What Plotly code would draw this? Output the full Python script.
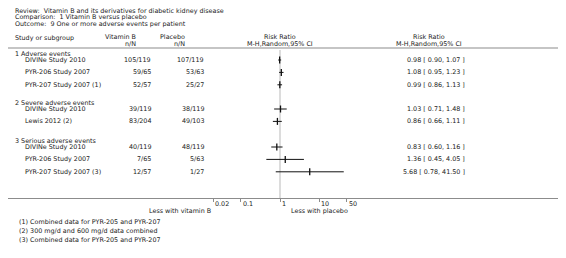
import math
import plotly.graph_objects as go

W, H = 566, 258
OFF = 8                      # browser body margin
WF, HF = W - OFF, H - OFF    # figure size

# ---------------- data ----------------
titles = [
    "Review:  Vitamin B and its derivatives for diabetic kidney disease",
    "Comparison:  1 Vitamin B versus placebo",
    "Outcome:  9 One or more adverse events per patient",
]
groups = ["1 Adverse events", "2 Severe adverse events", "3 Serious adverse events"]
group_of = [0, 0, 0, 1, 1, 2, 2, 2]
studies = ["DIVINe Study 2010", "PYR-206 Study 2007", "PYR-207 Study 2007 (1)",
           "DIVINe Study 2010", "Lewis 2012 (2)",
           "DIVINe Study 2010", "PYR-206 Study 2007", "PYR-207 Study 2007 (3)"]
vitb = ["105/119", "59/65", "52/57", "39/119", "83/204", "40/119", "7/65", "12/57"]
placebo = ["107/119", "53/63", "25/27", "38/119", "49/103", "48/119", "5/63", "1/27"]
rr = [0.98, 1.08, 0.99, 1.03, 0.86, 0.83, 1.36, 5.68]
lo = [0.90, 0.95, 0.86, 0.71, 0.66, 0.60, 0.45, 0.78]
hi = [1.07, 1.23, 1.13, 1.48, 1.11, 1.16, 4.05, 41.50]
tick_vals = [0.02, 0.1, 1, 10, 50]
tick_text = ["0.02", "0.1", "1", "10", "50"]
footnotes = ["(1) Combined data for PYR-205 and PYR-207",
             "(2) 300 mg/d and 600 mg/d data combined",
             "(3) Combined data for PYR-205 and PYR-207"]

# ---------------- layout helpers (reference pixel frame) ----------------
TOP, BOT = 49, 198          # plot area in reference pixels
X_ONE, DEC = 280, 39.4      # pixel of RR=1, pixels per decade
xr = [(OFF - X_ONE) / DEC, (W - X_ONE) / DEC]

def px(x):
    return (x - OFF) / WF

def py(y):
    return (BOT - y) / (BOT - TOP)

group_y = [54, 103, 141]
row_y = []
for i, g in enumerate(group_of):
    prev = [j for j in range(i) if group_of[j] == g]
    row_y.append(group_y[g] + 6 + 12.4 * len(prev))

FONT = "DejaVu Sans"
FS = 6.4
TC = "#222222"

ann = []
def text(x, y, s, anchor="left", size=FS):
    ann.append(dict(x=px(x), y=py(y), xref="paper", yref="paper", text=s,
                    showarrow=False, xanchor=anchor, yanchor="middle",
                    font=dict(family=FONT, size=size, color=TC)))

for t, y in zip(titles, [10.8, 17.2, 24.2]):
    text(13, y, t)
text(13, 38, "Study or subgroup")
text(138, 37, "Vitamin B", "right")
text(138, 44, "n/N", "right")
text(187, 37, "Placebo", "right")
text(187, 44, "n/N", "right")
text(280, 37, "Risk Ratio", "center")
text(280, 43.5, "M-H,Random,95% CI", "center")
text(429, 37, "Risk Ratio", "center")
text(429, 43.5, "M-H,Random,95% CI", "center")

for g, y in zip(groups, group_y):
    text(13, y, g)
for i in range(len(studies)):
    y = row_y[i]
    text(23, y, studies[i])
    text(153, y, vitb[i], "right")
    text(206, y, placebo[i], "right")
    text(467, y, f"{rr[i]:.2f} [ {lo[i]:.2f}, {hi[i]:.2f} ]", "right")

for v, s in zip(tick_vals, tick_text):
    ann.append(dict(x=math.log10(v), y=py(203.5), xref="x", yref="paper", text=s,
                    showarrow=False, xanchor="left", yanchor="middle", xshift=0,
                    font=dict(family=FONT, size=FS, color=TC)))
text(213, 210.5, "Less with vitamin B", "right")
text(289, 210.5, "Less with placebo", "left")
for f, y in zip(footnotes, [222, 231, 240]):
    text(17, y, f)

fig = go.Figure()

cx, cy = [], []
for l, h, y in zip(lo, hi, row_y):
    cx += [l, h, None]
    cy += [y, y, None]
fig.add_trace(go.Scatter(x=cx, y=cy, mode="lines",
                         line=dict(color="#111111", width=1), hoverinfo="skip"))
fig.add_trace(go.Scatter(x=rr, y=row_y, mode="markers",
                         marker=dict(symbol="line-ns", size=5, color="#111111",
                                     line=dict(color="#111111", width=1.3)),
                         hoverinfo="skip"))

one_paper = (0 - xr[0]) / (xr[1] - xr[0])
shapes = [
    dict(type="line", xref="paper", yref="paper", x0=one_paper, x1=one_paper,
         y0=py(BOT), y1=py(TOP + 1),
         line=dict(color="#dcdcdc", width=2), layer="below"),
    dict(type="line", xref="paper", yref="paper", x0=-0.02, x1=1, y0=py(48), y1=py(48),
         line=dict(color="#8c8c8c", width=1.2)),
]

fig.update_layout(
    width=WF, height=HF, margin=dict(l=0, r=0, t=TOP - OFF, b=H - BOT),
    paper_bgcolor="white", plot_bgcolor="white", showlegend=False,
    annotations=ann, shapes=shapes,
    xaxis=dict(type="log", range=xr, showgrid=False, zeroline=False,
               showline=True, linecolor="#8c8c8c", linewidth=1.2,
               tickvals=tick_vals, showticklabels=False,
               ticks="outside", ticklen=3, tickcolor="#8c8c8c", tickwidth=1),
    yaxis=dict(range=[BOT, TOP], showgrid=False, zeroline=False, visible=False),
)

fig.write_html("out.html")
